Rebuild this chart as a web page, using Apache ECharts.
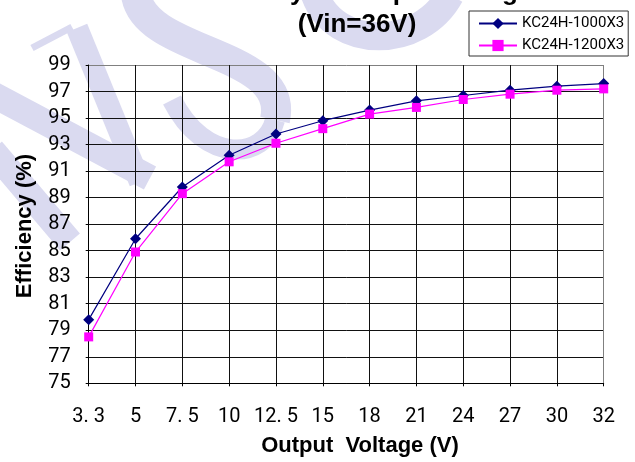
<!DOCTYPE html>
<html>
<head>
<meta charset="utf-8">
<script src="https://cdn.jsdelivr.net/npm/echarts@6/dist/echarts.min.js"></script>
<style>
html,body{margin:0;padding:0;background:#fff;}
#chart{width:635px;height:462px;}
</style>
</head>
<body>
<div id="chart"></div>
<script>
var categories = ['3. 3','5','7. 5','10','12. 5','15','18','21','24','27','30','32'];
var seriesNames = ['KC24H-1000X3','KC24H-1200X3'];
var eff1000 = [79.8, 85.9, 89.8, 92.2, 93.8, 94.8, 95.6, 96.3, 96.7, 97.1, 97.4, 97.6];
var eff1200 = [78.5, 84.9, 89.3, 91.7, 93.1, 94.2, 95.3, 95.8, 96.4, 96.8, 97.1, 97.2];
var yMin = 75, yMax = 99, yStep = 2;
var titleLines = ['Efficiency vs Output Voltage', '(Vin=36V)'];
var xTitle = 'Output  Voltage (V)';
var yTitle = 'Efficiency (%)';

var chart = echarts.init(document.getElementById('chart'), null, {renderer:'canvas'});
var wm = '#dadaf0';
var yLineCount = (yMax - yMin) / yStep + 1;
var yColors = [];
for (var i = 0; i < yLineCount; i++) yColors.push(i === yLineCount - 1 ? '#808080' : '#111');
var xColors = [];
for (var j = 0; j < categories.length; j++) xColors.push(j === categories.length - 1 ? '#808080' : '#111');

var option = {
  animation: false,
  backgroundColor: '#fff',
  grid: {left: 88.7, right: 31.3, top: 65, bottom: 78.7, show: false},
  legend: {
    orient: 'vertical',
    left: 469, top: 11,
    padding: [5, 4, 3, 9],
    itemGap: 7,
    itemWidth: 38, itemHeight: 14,
    borderColor: '#333', borderWidth: 1,
    backgroundColor: '#fff',
    textStyle: {fontFamily: 'Roboto', fontSize: 15, color: '#000', padding: [0,0,0,0]},
    data: seriesNames
  },
  xAxis: {
    type: 'category',
    data: categories,
    boundaryGap: false,
    axisLine: {lineStyle: {color: '#000', width: 1}},
    axisTick: {show: true, inside: false, length: 3, lineStyle: {color: '#000'}},
    axisLabel: {fontFamily: 'Roboto', fontSize: 20, color: '#000', margin: 24, interval: 0},
    splitLine: {show: true, lineStyle: {color: xColors, width: 1}}
  },
  yAxis: {
    type: 'value',
    min: yMin, max: yMax, interval: yStep,
    axisLine: {show: true, lineStyle: {color: '#000', width: 1}},
    axisTick: {show: true, inside: false, length: 3, lineStyle: {color: '#000'}},
    axisLabel: {fontFamily: 'Roboto', fontSize: 20, color: '#000', margin: 18},
    splitLine: {show: true, lineStyle: {color: yColors, width: 1}}
  },
  graphic: [
    {type:'line', z:-10, shape:{x1:32,y1:48,x2:72,y2:27}, style:{stroke:wm, lineWidth:7}},
    {type:'line', z:-10, shape:{x1:-10,y1:93,x2:150,y2:178}, style:{stroke:wm, lineWidth:26}},
    {type:'line', z:-10, shape:{x1:-8,y1:150,x2:70,y2:242}, style:{stroke:wm, lineWidth:26}},
    {type:'line', z:-10, shape:{x1:77,y1:28,x2:140,y2:182}, style:{stroke:wm, lineWidth:22}},
    {type:'bezierCurve', z:-10, shape:{x1:136,y1:-5,cpx1:145,cpy1:55,cpx2:290,cpy2:50,x2:275,y2:120}, style:{stroke:wm, lineWidth:30, fill:null}},
    {type:'bezierCurve', z:-10, shape:{x1:275,y1:120,cpx1:265,cpy1:160,cpx2:205,cpy2:165,x2:172,y2:100}, style:{stroke:wm, lineWidth:20, fill:null}},
    {type:'bezierCurve', z:-10, shape:{x1:315,y1:-5,cpx1:335,cpy1:50,cpx2:420,cpy2:50,x2:450,y2:-5}, style:{stroke:wm, lineWidth:28, fill:null}},
    {type:'text', z:10, x:357, y:-7, style:{text:titleLines[0], font:'bold 26px "Liberation Sans", Arial, sans-serif', fill:'#000', textAlign:'center', textVerticalAlign:'middle'}},
    {type:'text', z:10, x:357, y:25, style:{text:titleLines[1], font:'bold 26px "Liberation Sans", Arial, sans-serif', fill:'#000', textAlign:'center', textVerticalAlign:'middle'}},
    {type:'text', z:10, x:360, y:446, style:{text:xTitle, font:'bold 22px "Liberation Sans", Arial, sans-serif', fill:'#000', textAlign:'center', textVerticalAlign:'middle'}},
    {type:'text', z:10, x:25, y:226, rotation:Math.PI/2, style:{text:yTitle, font:'bold 22px "Liberation Sans", Arial, sans-serif', fill:'#000', textAlign:'center', textVerticalAlign:'middle'}}
  ],
  series: [
    {
      name: seriesNames[0], type: 'line', data: eff1000,
      symbol: 'diamond', symbolSize: 11,
      lineStyle: {color: '#000080', width: 1.2},
      itemStyle: {color: '#000080'}
    },
    {
      name: seriesNames[1], type: 'line', data: eff1200,
      symbol: 'rect', symbolSize: 9,
      lineStyle: {color: '#ff00ff', width: 1.2},
      itemStyle: {color: '#ff00ff'}
    }
  ]
};
chart.setOption(option);
</script>
</body>
</html>
